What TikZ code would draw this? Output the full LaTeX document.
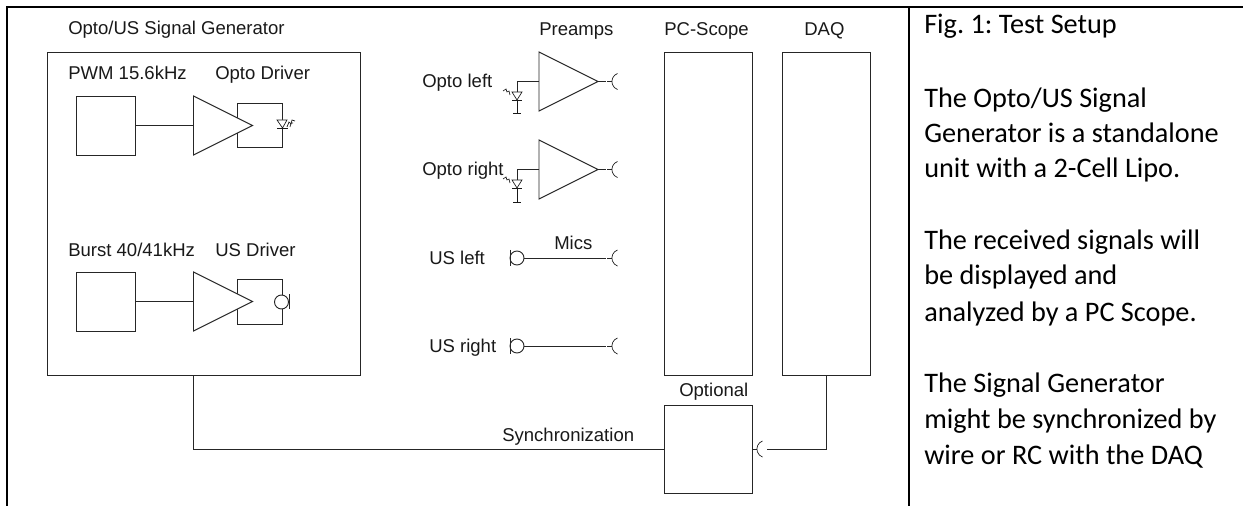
\documentclass[tikz,border=0pt]{standalone}
\usepackage{fontspec}
\setmainfont{Liberation Sans}
\newfontfamily\calib{Carlito}
\tikzset{
  x=0.75pt,y=-0.75pt,
  wire/.style={draw=black!85,line width=0.7pt},
  thin wire/.style={draw=black!90,line width=0.5pt},
  frameline/.style={draw=black,line width=1.5pt},
  boxx/.style={draw=black!85,line width=0.7pt,rectangle,inner sep=0pt,outer sep=0pt,anchor=north west,
     minimum width=#1*0.75pt},
  high/.style={minimum height=#1*0.75pt},
  lab/.style={anchor=base west,inner sep=0pt,font=\fontsize{13.9}{16}\selectfont,text=black!90},
  note/.style={anchor=base west,inner sep=0pt,font=\calib\frenchspacing\fontsize{21.2}{26}\selectfont}
}
% amplifier triangle: name, x of input side, y of axis
\newcommand{\ampl}[3]{%
  \coordinate (#1-in) at (#2,#3);
  \coordinate (#1-out) at (#2+59,#3);
  \draw[wire,fill=white] (#2,#3-29.5) -- (#1-out) -- (#2,#3+29.5) -- cycle;}
% socket: name, x of stub start, y
\newcommand{\jackr}[3]{%
  \coordinate (#1-l) at (#2,#3);
  \coordinate (#1-r) at (#2+5,#3);
  \draw[wire] (#1-l) -- (#1-r);
  \draw[thin wire] (#2+10.5,#3-8) arc[start angle=110,end angle=250,radius=6.4pt];}
% photodiode, cathode bar below: name, x, y of triangle top, y of ground bar
\newcommand{\pdiode}[4]{%
  \coordinate (#1-a) at (#2,#3);
  \coordinate (#1-g) at (#2,#4);
  \draw[thin wire] (#2-5,#3) -- (#2+5,#3) -- (#2,#3+8) -- cycle;
  \draw[thin wire] (#2-5,#3+8) -- (#2+5,#3+8);
  \draw[thin wire] (#2,#3+8) -- (#1-g);
  \draw[thin wire] (#2-4,#4) -- (#2+4,#4);
  \draw[thin wire] (#2-14,#3-1) -- (#2-11,#3-3) -- (#2-10,#3) -- (#2-8,#3-1) -- (#2-7,#3+3);}
% microphone: name, x, y
\newcommand{\micr}[3]{%
  \coordinate (#1-r) at (#2+7,#3);
  \coordinate (#1-l) at (#2-7,#3);
  \draw[wire,fill=white] (#2,#3) circle[radius=5.25pt];
  \draw[wire] (#2-7,#3-8) -- (#2-7,#3+8);}
\begin{document}
\begin{tikzpicture}
\useasboundingbox (0,0) rectangle (1243,506);
\fill[white] (0,0) rectangle (1243,506);
% frame
\draw[frameline] (7,506) -- (7,7) -- (1243,7);
\draw[frameline] (908.5,7) -- (908.5,506);
% boxes
\node[boxx=313,high=323] (gen) at (47,52) {};
\node[boxx=59,high=59] (pwm) at (76,96) {};
\node[boxx=45,high=44] (optodrv) at (237.5,103) {};
\node[boxx=59,high=59] (burst) at (76,272) {};
\node[boxx=45,high=45] (usdrv) at (237.5,279) {};
\node[boxx=88,high=323] (scope) at (664,52) {};
\node[boxx=88,high=323] (daq) at (782,52) {};
\node[boxx=88,high=88] (opt) at (664,405) {};
% opto driver chain
\ampl{a1}{193.5}{125.5}
\draw[wire] (pwm.east) -- (a1-in);
\draw[thin wire,fill=white] (277,120) -- (287,120) -- (282.5,128) -- cycle;
\draw[thin wire] (277,128.5) -- (288,128.5);
\draw[thin wire] (287,127) -- (289,122) -- (291,124) -- (292,120) -- (295,121);
\draw[thin wire] (290,127) -- (291,123) -- (293,123);
% us driver chain
\ampl{a2}{193.5}{301.5}
\draw[wire] (burst.east) -- (a2-in);
\node[circle,draw=black!85,line width=0.7pt,fill=white,minimum size=10.5pt,inner sep=0pt] (txm) at (281.5,302) {};
\draw[wire] (289,294) -- (289,309);
% preamps
\ampl{a3}{539}{81.5}
\ampl{a4}{539}{169.5}
\pdiode{pd1}{517}{92}{113}
\pdiode{pd2}{517}{180}{202}
\draw[wire] (a3-in) -| (pd1-a);
\draw[wire] (a4-in) -| (pd2-a);
\jackr{j1}{607}{81.5}
\jackr{j2}{607}{169.5}
\draw[wire] (a3-out) -- ++(7.5,0);
\draw[wire] (a4-out) -- ++(7.5,0);
% mics
\micr{m1}{517}{258}
\micr{m2}{517}{346}
\jackr{j3}{607}{258}
\jackr{j4}{607}{346}
\draw[wire] (m1-r) -- ++(82,0);
\draw[wire] (m2-r) -- ++(82,0);
% synchronisation
\jackr{j5}{752}{449}
\coordinate (syncr) at (767,449);
\draw[wire] (gen.south west) ++(146,0) |- (opt.west);
\draw[wire] (syncr) -| (daq.south);
% labels
\node[lab] (l1) at (68,35) {Opto/US Signal Generator};
\node[lab] (l2) at (68,80) {PWM 15.6kHz};
\node[lab] (l3) at (215,80) {Opto Driver};
\node[lab] (l4) at (68,257) {Burst 40/41kHz};
\node[lab] (l5) at (215,257) {US Driver};
\node[lab] (l6) at (539,36) {Preamps};
\node[lab] (l7) at (664,36) {PC-Scope};
\node[lab] (l8) at (804,36) {DAQ};
\node[lab] (l9) at (422,88) {Opto left};
\node[lab] (l10) at (422,176) {Opto right};
\node[lab] (l11) at (429,264) {US left};
\node[lab] (l12) at (429,352) {US right};
\node[lab] (l13) at (554,249) {Mics};
\node[lab] (l14) at (679,396) {Optional};
\node[lab] (l15) at (502,441) {Synchronization};
% notes
\node[note] (n1) at (924,34) {Fig. 1: Test Setup};
\node[note] (n2) at (924,108) {The Opto/US Signal};
\node[note] (n3) at (924,143) {Generator is a standalone};
\node[note] (n4) at (924,178) {unit with a 2-Cell Lipo.};
\node[note] (n5) at (924,249) {The received signals will};
\node[note] (n6) at (924,285) {be displayed and};
\node[note] (n7) at (924,321) {analyzed by a PC Scope.};
\node[note] (n8) at (924,392) {The Signal Generator};
\node[note] (n9) at (924,428) {might be synchronized by};
\node[note] (n10) at (924,464) {wire or RC with the DAQ};
\end{tikzpicture}
\end{document}
